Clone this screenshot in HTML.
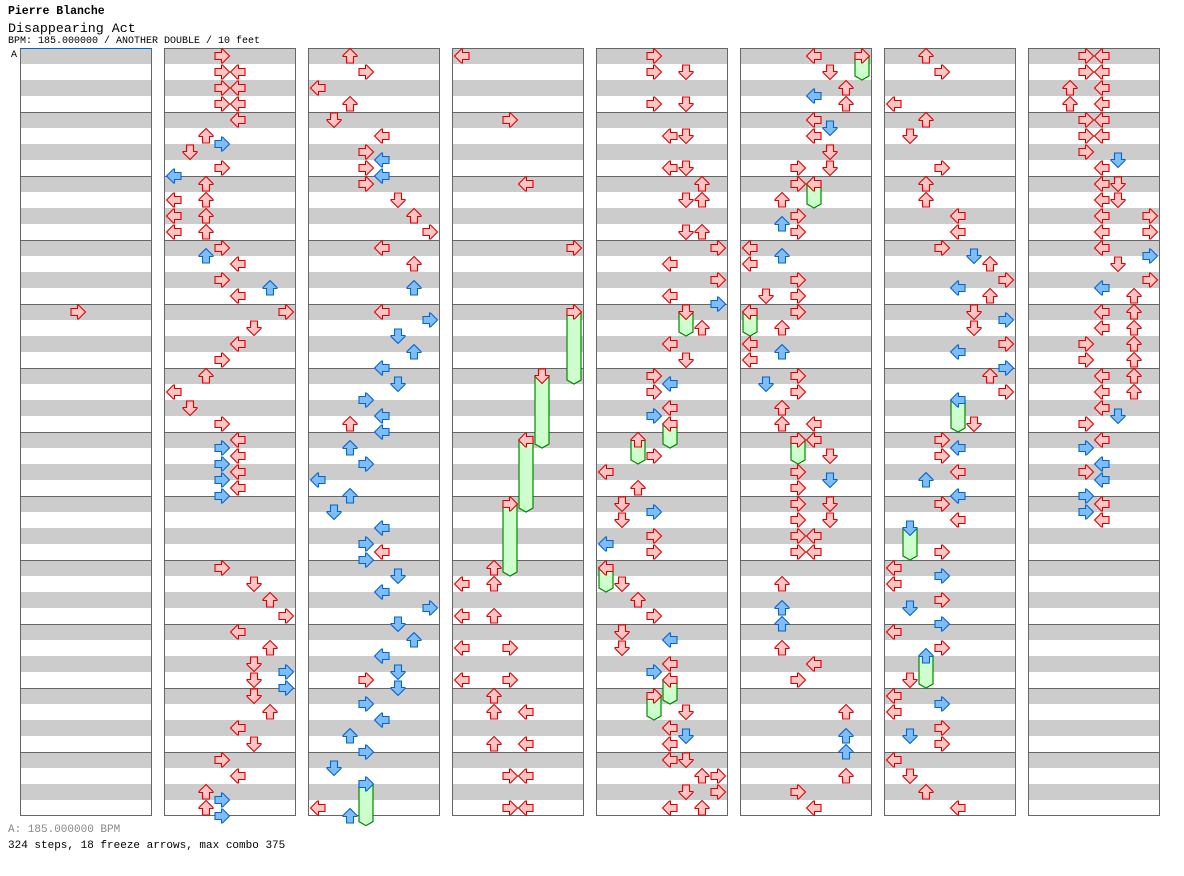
<!DOCTYPE html>
<html><head><meta charset="utf-8">
<style>
html,body{margin:0;padding:0;background:#fff;}
body{width:1184px;height:876px;position:relative;overflow:hidden;font-family:"Liberation Mono","DejaVu Sans Mono",monospace;}
.t{position:absolute;left:8px;white-space:nowrap;color:#000;}
</style></head><body>
<div class="t" style="top:5px;font-size:11.5px;font-weight:bold;">Pierre Blanche</div>
<div class="t" style="top:21px;font-size:13.3px;">Disappearing Act</div>
<div class="t" style="top:36px;font-size:10px;">BPM: 185.000000 / ANOTHER DOUBLE / 10 feet</div>
<div class="t" style="top:824px;font-size:11px;color:#888;">A: 185.000000 BPM</div>
<div class="t" style="top:840px;font-size:11px;">324 steps, 18 freeze arrows, max combo 375</div>
<svg id="chart" width="1184" height="876" style="position:absolute;left:0;top:0" xmlns="http://www.w3.org/2000/svg"></svg>
<script>
// steps per column: [beat, lane, lane...]; lanes 0-3 P1 L D U R, 4-7 P2 L D U R
const col0Steps=[[16,3]];
const col1Steps=[[0,3],[1,3,4],[2,3,4],[3,3,4],[4,4],[5,2],[5.5,3],[6,1],[7,3],[7.5,0],[8,2],[9,0,2],[10,0,2],[11,0,2],[12,3],[12.5,2],[13,4],[14,3],[14.5,6],[15,4],[16,7],[17,5],[18,4],[19,3],[20,2],[21,0],[22,1],[23,3],[24,4],[24.5,3],[25,4],[25.5,3],[26,4],[26.5,3],[27,4],[27.5,3],[32,3],[33,5],[34,6],[35,7],[36,4],[37,6],[38,5],[38.5,7],[39,5],[39.5,7],[40,5],[41,6],[42,4],[43,5],[44,3],[45,4],[46,2],[46.5,3],[47,2],[47.5,3]];
const col2Steps=[[0,2],[1,3],[2,0],[3,2],[4,1],[5,4],[6,3],[6.5,4],[7,3],[7.5,4],[8,3],[9,5],[10,6],[11,7],[12,4],[13,6],[14.5,6],[16,4],[16.5,7],[17.5,5],[18.5,6],[19.5,4],[20.5,5],[21.5,3],[22.5,4],[23,2],[23.5,4],[24.5,2],[25.5,3],[26.5,0],[27.5,2],[28.5,1],[29.5,4],[30.5,3],[31,4],[31.5,3],[32.5,5],[33.5,4],[34.5,7],[35.5,5],[36.5,6],[37.5,4],[38.5,5],[39,3],[39.5,5],[40.5,3],[41.5,4],[42.5,2],[43.5,3],[44.5,1],[47,0],[47.5,2]];
const col3Steps=[[0,0],[4,3],[8,4],[12,7],[32,2],[33,0,2],[35,0,2],[37,0,3],[39,0,3],[40,2],[41,2,4],[43,2,4],[45,3,4],[47,3,4]];
const col4Steps=[[0,3],[1,3,5],[3,3,5],[5,4,5],[7,4,5],[8,6],[9,5,6],[11,5,6],[12,7],[13,4],[14,7],[15,4],[15.5,7],[17,6],[18,4],[19,5],[20,3],[20.5,4],[21,3],[22,4],[22.5,3],[25,3],[26,0],[27,2],[28,1],[28.5,3],[29,1],[30,3],[30.5,0],[31,3],[33,1],[34,2],[35,3],[36,1],[36.5,4],[37,1],[38,4],[38.5,3],[41,5],[42,4],[42.5,5],[43,4],[44,4,5],[45,6,7],[46,5,7],[47,4,6]];
const col5Steps=[[0,4],[1,5],[2,6],[2.5,4],[3,6],[4,4],[4.5,5],[5,4],[6,5],[7,3,5],[8,3],[9,2],[10,3],[10.5,2],[11,3],[12,0],[12.5,2],[13,0],[14,3],[15,1,3],[16,3],[17,2],[18,0],[18.5,2],[19,0],[20,3],[20.5,1],[21,3],[22,2],[23,2,4],[24,4],[25,5],[26,3],[26.5,5],[27,3],[28,3,5],[29,3,5],[30,3,4],[31,3,4],[33,2],[34.5,2],[35.5,2],[37,2],[38,4],[39,3],[41,6],[42.5,6],[43.5,6],[45,6],[46,3],[47,4]];
const col6Steps=[[0,2],[1,3],[3,0],[4,2],[5,1],[7,3],[8,2],[9,2],[10,4],[11,4],[12,3],[12.5,5],[13,6],[14,7],[14.5,4],[15,6],[16,5],[16.5,7],[17,5],[18,7],[18.5,4],[19.5,7],[20,6],[21,7],[23,5],[24,3],[24.5,4],[25,3],[26,4],[26.5,2],[27.5,4],[28,3],[29,4],[31,3],[32,0],[32.5,3],[33,0],[34,3],[34.5,1],[35.5,3],[36,0],[37,3],[39,1],[40,0],[40.5,3],[41,0],[42,3],[42.5,1],[43,3],[44,0],[45,1],[46,2],[47,4]];
const col7Steps=[[0,3,4],[1,3,4],[2,2,4],[3,2,4],[4,3,4],[5,3,4],[6,3],[6.5,5],[7,4],[8,4,5],[9,4,5],[10,4,7],[11,4,7],[12,4],[12.5,7],[13,5],[14,7],[14.5,4],[15,6],[16,4,6],[17,4,6],[18,3,6],[19,3,6],[20,4,6],[21,4,6],[22,4],[22.5,5],[23,3],[24,4],[24.5,3],[25.5,4],[26,3],[26.5,4],[27.5,3],[28,4],[28.5,3],[29,4]];
// freezes: [column, startBeat, lane, endBeat]
const freezes=[[2,45.5,3,47.6],[3,16,7,20],[3,20,5,24],[3,24,4,28],[3,28,3,32],[4,16,5,17],[4,23,4,24],[4,24,2,25],[4,32,0,33],[4,39,4,40],[4,40,3,41],[5,0,7,1],[5,8,4,9],[5,16,0,17],[5,24,3,25],[6,21.5,4,23],[6,29.5,1,31],[6,37.5,2,39]];
const allSteps=[col0Steps,col1Steps,col2Steps,col3Steps,col4Steps,col5Steps,col6Steps,col7Steps];

const NS='http://www.w3.org/2000/svg';
const svg=document.getElementById('chart');
const TOP=48,BEAT=16,COLW=132,COLGAP=144,LEFT=20,BEATS=48;
function colX(c){return LEFT+c*COLGAP;}
function laneX(c,l){return colX(c)+2+l*16;}
function beatY(b){return TOP+b*BEAT;}
function mk(tag,attrs,parent){const e=document.createElementNS(NS,tag);for(const k in attrs)e.setAttribute(k,attrs[k]);(parent||svg).appendChild(e);return e;}
const dirs=['left','down','up','right'];
const rot={left:0,up:90,right:180,down:270};
const ARROW='M0.5,8 L7.5,1 L8.5,1 L8.5,4.5 L15,4.5 L15,11.5 L8.5,11.5 L8.5,15 L7.5,15 Z';

for(let c=0;c<8;c++){
  const g=mk('g',{});
  
  
  mk('rect',{x:colX(c),y:TOP,width:COLW,height:BEATS*BEAT,fill:'#fff'},g);
  for(let b=0;b<BEATS;b+=2){
    const s=mk('rect',{x:colX(c),y:beatY(b),width:COLW,height:BEAT,fill:'#cccccc'},g);
    
    
  }
  for(let m=1;m<12;m++){
    const ln=mk('line',{x1:colX(c),x2:colX(c)+COLW,y1:beatY(m*4)+0.5,y2:beatY(m*4)+0.5,stroke:'#666','stroke-width':1},g);
    
    
  }
  mk('rect',{x:colX(c)+0.5,y:TOP+0.5,width:COLW-1,height:BEATS*BEAT-1,fill:'none',stroke:'#666','stroke-width':1},g);
}
const bl=mk('line',{x1:LEFT,x2:LEFT+COLW,y1:TOP+0.5,y2:TOP+0.5,stroke:'#0066cc','stroke-width':1});


const bt=mk('text',{x:11,y:57,'font-size':10,'font-family':'Liberation Mono, monospace',fill:'#000'});
bt.textContent='A';



function drawArrow(c,b,l){
  const d=dirs[l%4];
  const red=Math.abs(b-Math.round(b))<0.01;
  const x=laneX(c,l),y=beatY(b);
  const p=mk('path',{d:ARROW,transform:`translate(${x},${y}) rotate(${rot[d]},8,8)`,fill:red?'#ffc4c4':'#80bcf8',stroke:red?'#dd0000':'#0066cc','stroke-width':1.1,'stroke-linejoin':'miter'});
  
  
}
freezes.forEach(f=>{
  const [c,s,l,e]=f;
  const x=laneX(c,l),y1=beatY(s)+8,y2=beatY(e)+12;
  const body=mk('path',{d:`M${x+1},${y1} L${x+15},${y1} L${x+15},${y2} L${x+8},${y2+4} L${x+1},${y2} Z`,fill:'#ccffcc',stroke:'#008800','stroke-width':1.2});
  
  
});
allSteps.forEach((arr,c)=>{arr.forEach(s=>{for(let i=1;i<s.length;i++)drawArrow(c,s[0],s[i]);});});
freezes.forEach(f=>drawArrow(f[0],f[1],f[2]));
</script>
</body></html>
